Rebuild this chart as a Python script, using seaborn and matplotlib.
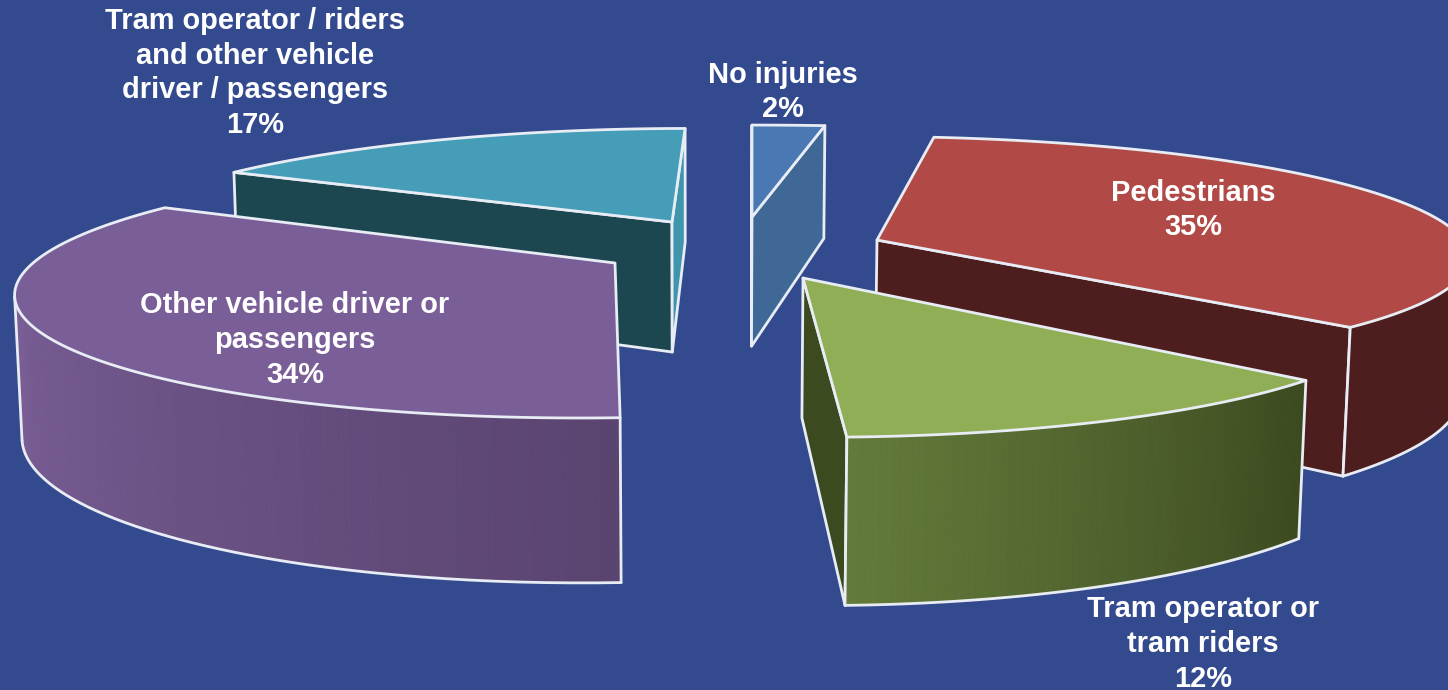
import numpy as np
import matplotlib
matplotlib.use("Agg")
import matplotlib.pyplot as plt
import seaborn as sns

# --- data ---
categories = ["No injuries", "Pedestrians", "Tram operator or\ntram riders",
              "Other vehicle driver or\npassengers",
              "Tram operator / riders\nand other vehicle\ndriver / passengers"]
shares = [2, 35, 12, 34, 17]

# --- styles / layout of each slice (clockwise from 12 o'clock) ---
apex_px = [(752, 217), (877, 240), (803, 278), (615, 263), (672, 222)]
radius_x = [720.0, 586.0, 576.0, 582.0, 566.0]
radius_y = [114.0, 116.0, 121.0, 124.0, 116.0]
persp = [0.24, 0.12, 0.24, 0.20, 0.24]
twist_deg = [0.0, 0.5, 1.5, 0.5, -0.3]
top_colors = ["#4a78b2", "#b14a46", "#8fae55", "#7a5e98", "#459db8"]
wall_colors = ["#3f6896", "#4e1e1e", "#3c4a20", "#5c4570", "#1c4650"]
end_wall_colors = ["#3f6896", "#4e1e1e", "#3c4a20", "#5c4570", "#3f95ab"]
outer_colors = [("#3f6896", "#3f6896"), ("#4e1e1e", "#4e1e1e"),
                ("#637b3a", "#3c4a20"), ("#7c6098", "#5a4470"),
                ("#3f95ab", "#3f95ab")]
draw_order = [4, 0, 1, 2, 3]
label_px = [(783, 92), (1193, 210), (1203, 644), (295, 340), (255, 73)]
BG = "#344a8e"
EDGE = "#e8ecf4"
LW = 2.0

# vanishing points and depth of the extrusion (image space)
VX = 752.0
NX, DC = 700.0, 7.5e-5
D0, D1 = 90.5, 0.178

sns.set_style("white")
plt.rcParams["font.family"] = ["Liberation Sans", "DejaVu Sans"]

fig = plt.figure(figsize=(14.48, 6.9), dpi=100, facecolor=BG)
ax = fig.add_axes([0, 0, 1, 1])
ax.set_facecolor(BG)
ax.set_xlim(0, 1448)
ax.set_ylim(690, 0)
ax.axis("off")


def top_point(i, theta, r=1.0):
    ax_, ay_ = apex_px[i]
    X, Y = r * np.sin(theta), r * np.cos(theta)
    s = 1.0 / (1.0 + persp[i] * Y)
    return np.array([ax_ + radius_x[i] * X * s + (1 - s) * (VX - ax_),
                     ay_ - radius_y[i] * Y * s])


def bottom_point(p):
    depth = D0 + D1 * p[1]
    return np.array([p[0] - (p[0] - NX) * DC * depth, p[1] + depth])


def area(q):
    x, y = np.array(q).T
    return 0.5 * np.sum(x * np.roll(y, -1) - np.roll(x, -1) * y)


edges = np.radians(np.concatenate([[0], np.cumsum(shares)]) * 3.6)

for layer, i in enumerate(draw_order):
    t0 = edges[i] + np.radians(twist_deg[i])
    t1 = edges[i + 1] + np.radians(twist_deg[i])
    thetas = np.linspace(t0, t1, max(int(np.degrees(t1 - t0)) * 2, 8))
    apex = top_point(i, 0.0, 0.0)
    arc = [top_point(i, t) for t in thetas]
    z = 100 * (layer + 1)

    # flat cut walls
    for a, b, col in [(apex, arc[0], wall_colors[i]), (arc[-1], apex, end_wall_colors[i])]:
        q = [a, b, bottom_point(b), bottom_point(a)]
        if area(q) < -1:
            ax.fill(*np.array(q).T, facecolor=col, edgecolor=EDGE, lw=LW,
                    joinstyle="round", zorder=z)

    # outer cylinder wall, shaded from left to right on screen
    vis = [k for k in range(len(arc) - 1)
           if area([arc[k], arc[k + 1], bottom_point(arc[k + 1]), bottom_point(arc[k])]) < 0]
    if vis:
        pal = sns.blend_palette(list(outer_colors[i]), len(vis))
        for n, k in enumerate(sorted(vis, key=lambda k: arc[k][0])):
            q = [arc[k], arc[k + 1], bottom_point(arc[k + 1]), bottom_point(arc[k])]
            ax.fill(*np.array(q).T, facecolor=pal[n], edgecolor=pal[n], lw=0.6, zorder=z + 1)
        bot = np.array([bottom_point(arc[k]) for k in vis] + [bottom_point(arc[vis[-1] + 1])])
        ax.plot(*bot.T, color=EDGE, lw=LW, zorder=z + 2)
        for k in (vis[0], vis[-1] + 1):
            ax.plot(*np.array([arc[k], bottom_point(arc[k])]).T, color=EDGE, lw=LW, zorder=z + 2)

    # top face
    ax.fill(*np.array([apex] + arc).T, facecolor=top_colors[i], edgecolor=EDGE, lw=LW,
            joinstyle="round", zorder=z + 3)

for name, share, (lx, ly) in zip(categories, shares, label_px):
    ax.text(lx, ly, f"{name}\n{share}%", color="white", ha="center", va="center",
            fontsize=20.9, fontweight="bold", linespacing=1.3, zorder=1000)

fig.savefig("out.png", dpi=100, facecolor=BG)
